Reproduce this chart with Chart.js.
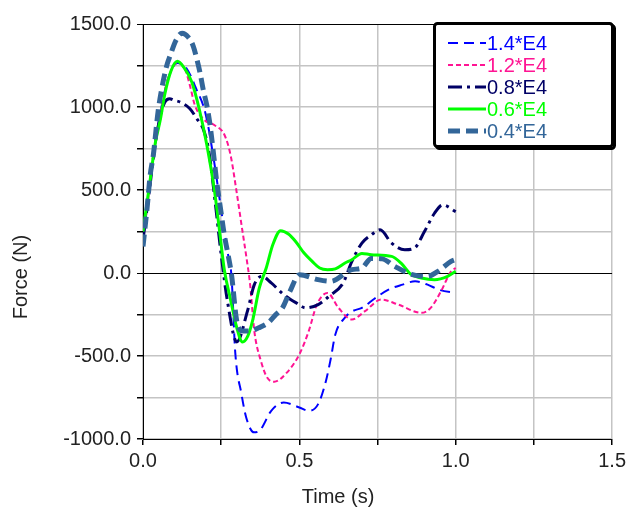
<!DOCTYPE html>
<html>
<head>
<meta charset="utf-8">
<script src="https://cdn.jsdelivr.net/npm/chart.js@4/dist/chart.umd.min.js"></script>
<style>
  html, body { margin: 0; padding: 0; background: #fff; }
  #wrap { width: 630px; height: 509px; }
</style>
</head>
<body>
<div id="wrap"><canvas id="force-chart" width="630" height="509"></canvas></div>
<script>
// Series labels
const seriesLabels = ['1.4*E4', '1.2*E4', '0.8*E4', '0.6*E4', '0.4*E4'];

// Time (s) and force (N), one pair of arrays per curve
const t14 = [0, 0.02, 0.04, 0.06, 0.08, 0.11, 0.14, 0.17, 0.2, 0.225, 0.25, 0.27, 0.283, 0.295, 0.315, 0.33, 0.355, 0.375, 0.41, 0.45, 0.5, 0.53, 0.56, 0.585, 0.6, 0.615, 0.645, 0.67, 0.7, 0.74, 0.785, 0.83, 0.87, 0.91, 0.945, 1.0];
const f14 = [200, 500, 790, 1010, 1170, 1265, 1230, 1110, 960, 700, 380, 130, -20, -480, -730, -870, -960, -945, -830, -780, -810, -830, -790, -650, -520, -370, -270, -230, -210, -155, -100, -70, -50, -70, -100, -120];

const t12 = [0, 0.02, 0.04, 0.06, 0.08, 0.11, 0.134, 0.15, 0.166, 0.197, 0.229, 0.261, 0.28, 0.3, 0.315, 0.331, 0.342, 0.356, 0.377, 0.397, 0.42, 0.46, 0.5, 0.53, 0.556, 0.59, 0.625, 0.668, 0.71, 0.762, 0.816, 0.89, 0.92, 0.953, 0.985, 1.0];
const f12 = [200, 500, 790, 1010, 1170, 1265, 1230, 1130, 1010, 920, 890, 830, 710, 480, 290, 90, -60, -350, -530, -630, -655, -600, -490, -350, -190, -120, -210, -280, -230, -160, -190, -240, -210, -110, 10, 30];

const t08 = [0, 0.02, 0.04, 0.055, 0.07, 0.085, 0.1, 0.118, 0.15, 0.172, 0.192, 0.21, 0.23, 0.25, 0.27, 0.3, 0.334, 0.356, 0.38, 0.41, 0.45, 0.49, 0.52, 0.56, 0.595, 0.64, 0.668, 0.7, 0.73, 0.758, 0.795, 0.837, 0.868, 0.9, 0.932, 0.958, 1.0];
const f08 = [200, 490, 790, 940, 1030, 1050, 1040, 1030, 990, 930, 870, 740, 440, 110, -170, -415, -230, -70, -20, -60, -130, -180, -210, -190, -140, -60, 70, 180, 230, 260, 180, 140, 150, 250, 360, 410, 370];

const t06 = [0, 0.02, 0.04, 0.055, 0.07, 0.09, 0.11, 0.13, 0.156, 0.182, 0.204, 0.229, 0.245, 0.26, 0.28, 0.3, 0.318, 0.335, 0.35, 0.372, 0.394, 0.415, 0.44, 0.465, 0.488, 0.515, 0.541, 0.565, 0.59, 0.615, 0.646, 0.668, 0.7, 0.73, 0.795, 0.826, 0.858, 0.89, 0.932, 0.974, 1.0];
const f06 = [250, 520, 790, 920, 1080, 1220, 1275, 1240, 1150, 970, 772, 490, 250, 20, -160, -330, -415, -380, -290, -90, 30, 170, 255, 235, 190, 120, 70, 30, 20, 25, 60, 80, 118, 110, 100, 58, -10, -30, -40, -20, 10];

const t04 = [0, 0.013, 0.023, 0.033, 0.048, 0.06, 0.076, 0.087, 0.105, 0.125, 0.145, 0.16, 0.172, 0.182, 0.192, 0.204, 0.213, 0.223, 0.235, 0.25, 0.26, 0.27, 0.283, 0.3, 0.32, 0.34, 0.37, 0.4, 0.425, 0.446, 0.47, 0.5, 0.56, 0.6, 0.668, 0.7, 0.73, 0.765, 0.805, 0.858, 0.91, 0.943, 0.985, 1.0];
const f04 = [160, 390, 590, 710, 970, 1110, 1250, 1310, 1400, 1445, 1420, 1370, 1290, 1210, 1110, 1010, 910, 760, 560, 360, 230, 130, -10, -290, -350, -350, -330, -300, -250, -210, -110, -10, -40, -50, 20, 30, 88, 85, 40, -8, -20, 10, 70, 82];

// Axis ranges and ticks
const xRange = [0, 1.5];
const yRange = [-1000, 1500];
const xStep = 0.25;
const yStep = 250;

const pairs = (ts, fs) => ts.map((t, i) => ({ x: t, y: fs[i] }));

const FONT = "'Liberation Sans', Arial, sans-serif";

const datasets = [
    { label: seriesLabels[0], data: pairs(t14, f14), borderColor: '#0000ff', borderWidth: 2, borderDash: [10, 6], order: 5 },
    { label: seriesLabels[1], data: pairs(t12, f12), borderColor: '#ff1493', borderWidth: 2, borderDash: [5, 3], order: 4 },
    { label: seriesLabels[2], data: pairs(t08, f08), borderColor: '#000066', borderWidth: 3, borderDash: [14, 5, 3, 5], order: 3 },
    { label: seriesLabels[3], data: pairs(t06, f06), borderColor: '#00ff00', borderWidth: 3, borderDash: [], order: 2 },
    { label: seriesLabels[4], data: pairs(t04, f04), borderColor: '#336699', borderWidth: 5, borderDash: [12, 6], order: 1 },
].map(d => Object.assign(d, { fill: false, pointRadius: 0, cubicInterpolationMode: 'monotone' }));

// legend box and axis titles drawn on the canvas
const decorations = {
    id: 'decorations',
    afterDraw(chart) {
        const ctx = chart.ctx;
        ctx.save();

        // axis titles
        ctx.fillStyle = '#222';
        ctx.font = '20px ' + FONT;
        ctx.textAlign = 'center';
        ctx.textBaseline = 'middle';
        ctx.fillText('Time (s)', 338, 497);
        ctx.translate(21, 277);
        ctx.rotate(-Math.PI / 2);
        ctx.fillText('Force (N)', 0, 0);
        ctx.setTransform(1, 0, 0, 1, 0, 0);

        // legend box with shadow
        const bx = 434.5, by = 23.5, bw = 178, bh = 123;
        ctx.lineWidth = 3;
        ctx.strokeStyle = '#000';
        ctx.beginPath();
        ctx.roundRect(bx + 2, by + 2, bw, bh, 3);
        ctx.stroke();
        ctx.fillStyle = '#fff';
        ctx.beginPath();
        ctx.roundRect(bx, by, bw, bh, 3);
        ctx.fill();
        ctx.stroke();

        ctx.textAlign = 'left';
        chart.data.datasets.forEach((ds, i) => {
            const y = 43 + i * 22;
            ctx.strokeStyle = ds.borderColor;
            ctx.lineWidth = ds.borderWidth;
            ctx.setLineDash(ds.borderDash);
            ctx.beginPath();
            ctx.moveTo(448, y);
            ctx.lineTo(486, y);
            ctx.stroke();
            ctx.setLineDash([]);
            ctx.fillStyle = ds.borderColor;
            ctx.fillText(ds.label, 487, y + 1);
        });
        ctx.restore();
    }
};

const isMultiple = (v, m) => Math.abs(v / m - Math.round(v / m)) < 1e-9;

new Chart(document.getElementById('force-chart'), {
    type: 'line',
    data: { datasets },
    options: {
        responsive: false,
        animation: false,
        layout: { padding: { top: 24, right: 14, left: 0, bottom: 0 } },
        plugins: { legend: { display: false }, tooltip: { enabled: false } },
        scales: {
            x: {
                type: 'linear',
                min: xRange[0],
                max: xRange[1],
                afterFit: s => { s.height = 70; },
                ticks: {
                    stepSize: xStep,
                    padding: 4,
                    color: '#222',
                    font: { family: FONT, size: 20 },
                    maxRotation: 0,
                    autoSkip: false,
                    callback: v => isMultiple(v, 0.5) ? v.toFixed(1) : '',
                },
                grid: { color: '#c4c4c4', lineWidth: 1.5, tickColor: '#000', tickLength: 6 },
                border: { color: '#000', width: 1 },
            },
            y: {
                min: yRange[0],
                max: yRange[1],
                afterFit: s => { s.width = 143; },
                ticks: {
                    stepSize: yStep,
                    padding: 6,
                    color: '#222',
                    font: { family: FONT, size: 20 },
                    autoSkip: false,
                    callback: v => isMultiple(v, 500) ? v.toFixed(1) : '',
                },
                grid: {
                    color: c => (c.tick && (c.tick.value === 0 || c.tick.value === yRange[1])) ? '#000' : '#c4c4c4',
                    lineWidth: c => (c.tick && (c.tick.value === 0 || c.tick.value === yRange[1])) ? 1 : 1.5,
                    tickColor: '#000',
                    tickLength: 6,
                },
                border: { color: '#000', width: 1 },
            },
        },
    },
    plugins: [decorations],
});
</script>
</body>
</html>
